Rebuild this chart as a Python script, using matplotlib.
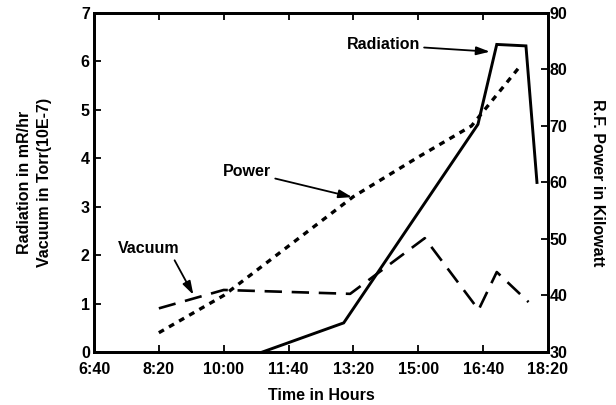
import matplotlib
matplotlib.use("Agg")
import matplotlib.pyplot as plt

plt.rcParams['font.family'] = ['Liberation Sans', 'DejaVu Sans']
plt.rcParams['font.weight'] = 'bold'
plt.rcParams['lines.scale_dashes'] = False


def hours(t):
    h, m = t.split(':')
    return int(h) + int(m) / 60.0


# ---- data ----
tick_labels = ["6:40", "8:20", "10:00", "11:40", "13:20", "15:00", "16:40", "18:20"]
left_ticks = [0, 1, 2, 3, 4, 5, 6, 7]
right_ticks = [30, 40, 50, 60, 70, 80, 90]

rad_times = ["11:00", "13:05", "16:32", "17:01", "17:46", "18:03"]
rad_values = [0.0, 0.6, 4.7, 6.35, 6.32, 3.5]

vac_times = ["8:20", "10:00", "13:15", "15:10", "16:33", "17:01", "17:50"]
vac_values = [0.9, 1.28, 1.2, 2.35, 0.87, 1.65, 1.03]

pow_times = ["8:20", "10:00", "13:20", "15:00", "16:22", "17:35"]
pow_values = [33.4, 40.0, 57.5, 64.5, 70.0, 80.3]

# ---- figure ----
fig = plt.figure(figsize=(6.16, 4.05), dpi=100)
ax = fig.add_axes([0.1526, 0.131, 0.7370, 0.837])
ax2 = ax.twinx()

xt = [hours(t) for t in tick_labels]
ax.set_xlim(xt[0], xt[-1])
ax.set_ylim(0, 7)
ax2.set_ylim(30, 90)

ax.plot([hours(t) for t in rad_times], rad_values, color='black', lw=2.1,
        solid_joinstyle='miter', zorder=3)
ax.plot([hours(t) for t in vac_times], vac_values, color='black', lw=1.9,
        dashes=(12.5, 7), zorder=3)
ax2.plot([hours(t) for t in pow_times], pow_values, color='black', lw=2.4,
         dashes=(4.2, 4.2), zorder=3)

ax.set_xticks(xt)
ax.set_xticklabels(tick_labels)
ax.set_yticks(left_ticks)
ax2.set_yticks(right_ticks)

for a in (ax, ax2):
    for s in a.spines.values():
        s.set_linewidth(2.0)
ax.tick_params(axis='x', direction='in', top=True, length=5, width=1.3,
               labelsize=11.5, pad=7)
ax.tick_params(axis='y', direction='in', length=5, width=1.3, labelsize=11.5, pad=3)
ax2.tick_params(axis='y', direction='in', length=5, width=1.3, labelsize=11.5, pad=1)

ax.set_xlabel("Time in Hours", fontsize=11.5, fontweight='bold', labelpad=8)
ax.set_ylabel("Radiation in mR/hr\nVacuum in Torr(10E-7)", fontsize=11.5,
              fontweight='bold', linespacing=1.4)
ax.yaxis.set_label_coords(-0.093, 0.5)
ax2.set_ylabel("R.F. Power in Kilowatt", fontsize=11.5, fontweight='bold',
               rotation=270, labelpad=27)

arrow = dict(arrowstyle='-|>,head_length=0.7,head_width=0.22', color='black',
             lw=1.3, shrinkA=1, shrinkB=0)

ax.annotate("Radiation", xy=(16.84, 6.2), xytext=(14.1, 6.34),
            ha='center', va='center', fontsize=11.5, fontweight='bold',
            arrowprops=arrow)
ax2.annotate("Power", xy=(13.3, 57.4), xytext=(10.6, 61.9),
             ha='center', va='center', fontsize=11.5, fontweight='bold',
             arrowprops=arrow)
ax.annotate("Vacuum", xy=(9.22, 1.18), xytext=(8.08, 2.13),
            ha='center', va='center', fontsize=11.5, fontweight='bold',
            arrowprops=dict(arrow, relpos=(0.88, 0.0)))

fig.savefig("out.png", dpi=100)
